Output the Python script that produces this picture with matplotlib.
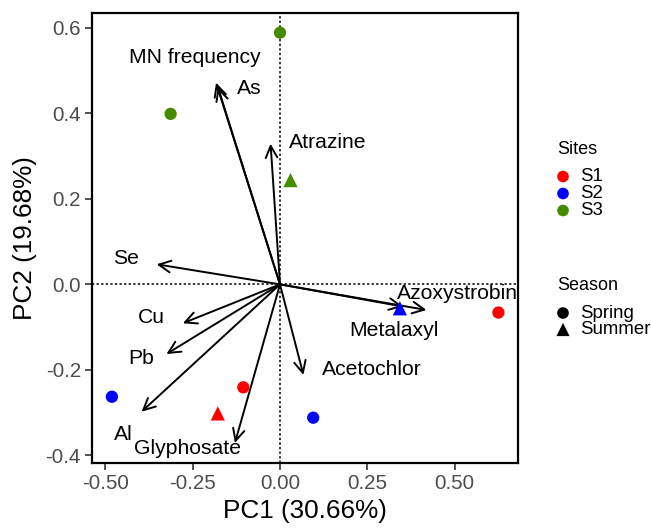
import matplotlib
matplotlib.use("Agg")
import matplotlib.pyplot as plt

plt.rcParams['font.family'] = ['Liberation Sans', 'DejaVu Sans']

# ---- data ----
site = ['S3', 'S3', 'S3', 'S2', 'S1', 'S2', 'S1', 'S1', 'S2']
season = ['Spring', 'Spring', 'Summer', 'Summer', 'Spring', 'Spring', 'Spring', 'Summer', 'Spring']
pc1 = [0.000, -0.313, 0.030, 0.343, 0.625, 0.095, -0.105, -0.178, -0.481]
pc2 = [0.589, 0.399, 0.244, -0.056, -0.066, -0.312, -0.241, -0.302, -0.263]

var_names = ['MN frequency', 'As', 'Atrazine', 'Se', 'Cu', 'Pb', 'Al',
             'Glyphosate', 'Acetochlor', 'Metalaxyl', 'Azoxystrobin']
var_x = [-0.183, -0.178, -0.027, -0.353, -0.278, -0.325, -0.396, -0.129, 0.067, 0.352, 0.419]
var_y = [0.472, 0.462, 0.329, 0.047, -0.091, -0.163, -0.298, -0.371, -0.212, -0.052, -0.060]
lab_x = [-0.243, -0.087, 0.137, -0.441, -0.367, -0.396, -0.449, -0.265, 0.263, 0.326, 0.509]
lab_y = [0.519, 0.445, 0.318, 0.0475, -0.090, -0.187, -0.365, -0.398, -0.212, -0.121, -0.035]

site_colors = {'S1': '#FF0000', 'S2': '#0000FF', 'S3': '#458B00'}
season_markers = {'Spring': 'o', 'Summer': '^'}

xticks = [-0.50, -0.25, 0.00, 0.25, 0.50]
yticks = [-0.4, -0.2, 0.0, 0.2, 0.4, 0.6]

fig = plt.figure(figsize=(6.51, 5.29), dpi=100)
ax = fig.add_axes([0.1413, 0.1248, 0.6544, 0.8506])
ax.set_xlim(-0.538, 0.681)
ax.set_ylim(-0.418, 0.635)

ax.axhline(0, color='black', ls=(0, (1.5, 1.5)), lw=1.1, zorder=1)
ax.axvline(0, color='black', ls=(0, (1.5, 1.5)), lw=1.1, zorder=1)

for vx, vy in zip(var_x, var_y):
    ax.annotate('', xy=(vx, vy), xytext=(0, 0),
                arrowprops=dict(arrowstyle='->,head_length=0.85,head_width=0.42',
                                color='black', lw=1.4, shrinkA=0, shrinkB=0),
                zorder=2)

for name, tx, ty in zip(var_names, lab_x, lab_y):
    ax.text(tx, ty, name, ha='center', va='baseline', fontsize=15.2,
            color='black', zorder=3)

for s, se, x, y in zip(site, season, pc1, pc2):
    ms = 78 if se == 'Spring' else 105
    ax.scatter(x, y, s=ms, marker=season_markers[se], color=site_colors[s],
               edgecolors='none', zorder=4)

ax.set_xticks(xticks)
ax.set_xticklabels([f'{v:.2f}' for v in xticks])
ax.set_yticks(yticks)
ax.set_yticklabels([f'{v:.1f}' for v in yticks])
ax.tick_params(labelsize=14.8, labelcolor='#4D4D4D', color='#333333',
               length=5, width=1.2, pad=3)
for sp in ax.spines.values():
    sp.set_linewidth(1.6)
    sp.set_color('black')
ax.set_xlabel('PC1 (30.66%)', fontsize=18.8, labelpad=4)
ax.set_ylabel('PC2 (19.68%)', fontsize=18.8, labelpad=6)

# ---- legend drawn in pixel coordinates ----
lg = fig.add_axes([0, 0, 1, 1], zorder=-1)
lg.set_xlim(0, 651)
lg.set_ylim(529, 0)
lg.axis('off')
lg.text(557, 149, 'Sites', fontsize=13, va='center', ha='left')
for i, s in enumerate(['S1', 'S2', 'S3']):
    yy = [176.5, 193.5, 210.5][i]
    lg.scatter(563, yy, s=70, marker='o', color=site_colors[s], edgecolors='none')
    lg.text(580, yy, s, fontsize=13.4, va='center', ha='left')
lg.text(557, 285, 'Season', fontsize=13, va='center', ha='left')
for i, se in enumerate(['Spring', 'Summer']):
    yy = [313, 329.5][i]
    lg.scatter(563, yy, s=70 if se == 'Spring' else 90, marker=season_markers[se],
               color='black', edgecolors='none')
    lg.text(580, yy, se, fontsize=13.4, va='center', ha='left')

fig.savefig('out.png', dpi=100)
